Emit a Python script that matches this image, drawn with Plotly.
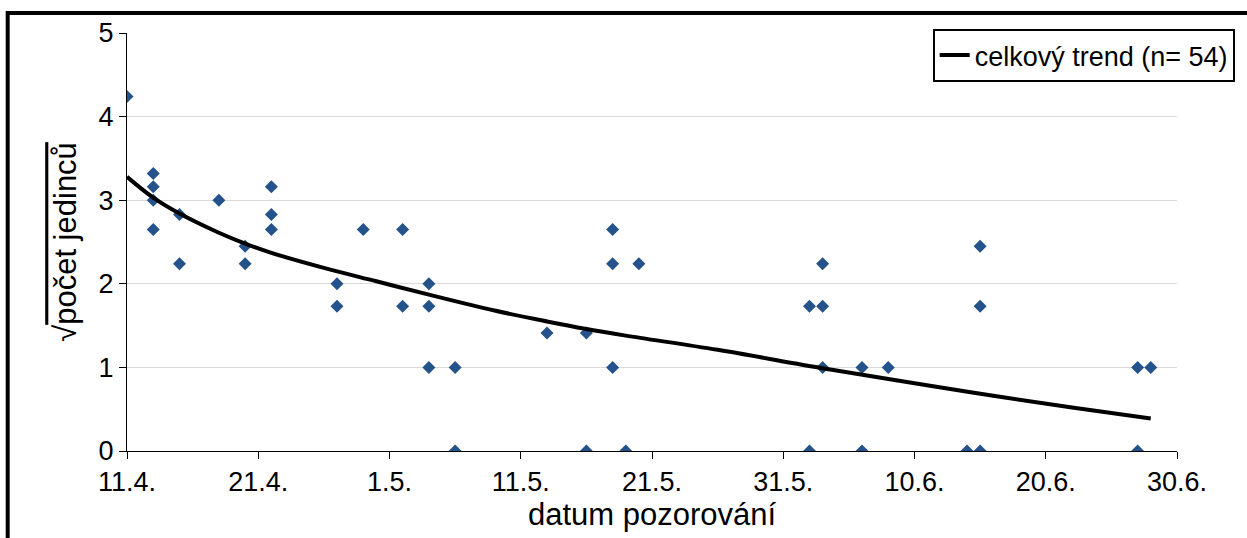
import plotly.graph_objects as go

# observations (date, sqrt of count)
obs_dates = [
    "2013-04-11",
    "2013-04-13", "2013-04-13", "2013-04-13", "2013-04-13",
    "2013-04-15", "2013-04-15",
    "2013-04-18",
    "2013-04-20", "2013-04-20",
    "2013-04-22", "2013-04-22", "2013-04-22",
    "2013-04-27", "2013-04-27",
    "2013-04-29",
    "2013-05-02", "2013-05-02",
    "2013-05-04", "2013-05-04", "2013-05-04",
    "2013-05-06", "2013-05-06",
    "2013-05-13",
    "2013-05-16", "2013-05-16",
    "2013-05-18", "2013-05-18", "2013-05-18",
    "2013-05-19",
    "2013-05-20",
    "2013-06-02", "2013-06-02",
    "2013-06-03", "2013-06-03", "2013-06-03",
    "2013-06-06", "2013-06-06",
    "2013-06-08",
    "2013-06-14",
    "2013-06-15", "2013-06-15", "2013-06-15",
    "2013-06-27", "2013-06-27",
    "2013-06-28",
]
obs_values = [
    4.24,
    3.32, 3.16, 3.00, 2.65,
    2.83, 2.24,
    3.00,
    2.45, 2.24,
    3.16, 2.83, 2.65,
    2.00, 1.73,
    2.65,
    2.65, 1.73,
    2.00, 1.73, 1.00,
    1.00, 0.00,
    1.41,
    1.41, 0.00,
    2.65, 2.24, 1.00,
    0.00,
    2.24,
    1.73, 0.00,
    2.24, 1.73, 1.00,
    1.00, 0.00,
    1.00,
    0.00,
    2.45, 1.73, 0.00,
    1.00, 0.00,
    1.00,
]

# overall trend
trend_dates = [
    "2013-04-11", "2013-04-13", "2013-04-15", "2013-04-18", "2013-04-20",
    "2013-04-22", "2013-04-26", "2013-04-30", "2013-05-04", "2013-05-09",
    "2013-05-13", "2013-05-16", "2013-05-19", "2013-05-26", "2013-06-03",
    "2013-06-10", "2013-06-16", "2013-06-22", "2013-06-28",
]
trend_values = [
    3.28, 3.03, 2.84, 2.61, 2.48,
    2.37, 2.19, 2.03, 1.87, 1.68,
    1.55, 1.46, 1.38, 1.21, 0.99,
    0.81, 0.66, 0.52, 0.39,
]
trend_name = "celkový trend (n= 54)"

tick_dates = ["2013-04-11", "2013-04-21", "2013-05-01", "2013-05-11", "2013-05-21",
              "2013-05-31", "2013-06-10", "2013-06-20", "2013-06-30"]
tick_labels = ["11.4.", "21.4.", "1.5.", "11.5.", "21.5.", "31.5.", "10.6.", "20.6.", "30.6."]
y_ticks = [0, 1, 2, 3, 4, 5]

FONT = "Liberation Sans, Arial, sans-serif"

fig = go.Figure()
fig.add_trace(go.Scatter(
    x=obs_dates, y=obs_values, mode="markers", showlegend=False,
    marker=dict(symbol="diamond", size=10, color="#24528A", line=dict(width=0)),
))
fig.add_trace(go.Scatter(
    x=trend_dates, y=trend_values, mode="lines", name=trend_name,
    line=dict(color="black", width=4, shape="spline"),
))

W, H = 1247, 538
L, R, T, B = 127, 64, 33, 87
pw, ph = W - L - R, H - T - B

def px_x(px):
    return (px - L) / pw

def px_y(py):
    return (H - B - py) / ph

fig.update_layout(
    width=W, height=H,
    margin=dict(l=L, r=R, t=T, b=B),
    paper_bgcolor="white", plot_bgcolor="white",
    font=dict(family=FONT, size=27, color="black"),
    xaxis=dict(
        type="date",
        range=["2013-04-11", "2013-06-30"],
        tickvals=tick_dates, ticktext=tick_labels,
        ticks="outside", ticklen=7, tickcolor="black", tickwidth=1,
        showline=True, linecolor="black", linewidth=1,
        showgrid=False, zeroline=False,
        tickfont=dict(size=27),
        title=dict(text="datum pozorování", font=dict(size=31), standoff=4),
    ),
    yaxis=dict(
        range=[0, 5],
        tickvals=y_ticks,
        ticks="outside", ticklen=7, tickcolor="black", tickwidth=1,
        showline=True, linecolor="black", linewidth=1,
        showgrid=True, gridcolor="#d9d9d9", gridwidth=1,
        zeroline=False,
        tickfont=dict(size=27),
        title=dict(text="√<span style='text-decoration:overline'>počet jedinců</span>",
                   font=dict(size=31), standoff=12),
    ),
    legend=dict(
        x=px_x(1241), y=px_y(29), xanchor="right", yanchor="top",
        bgcolor="white", bordercolor="black", borderwidth=2,
        font=dict(size=27), tracegroupgap=0,
    ),
    shapes=[
        dict(type="rect", xref="paper", yref="paper",
             x0=px_x(7), x1=px_x(1300), y0=px_y(600), y1=px_y(13),
             line=dict(color="black", width=4), fillcolor="rgba(0,0,0,0)", layer="above"),
    ],
)

fig.write_html("out.html")
